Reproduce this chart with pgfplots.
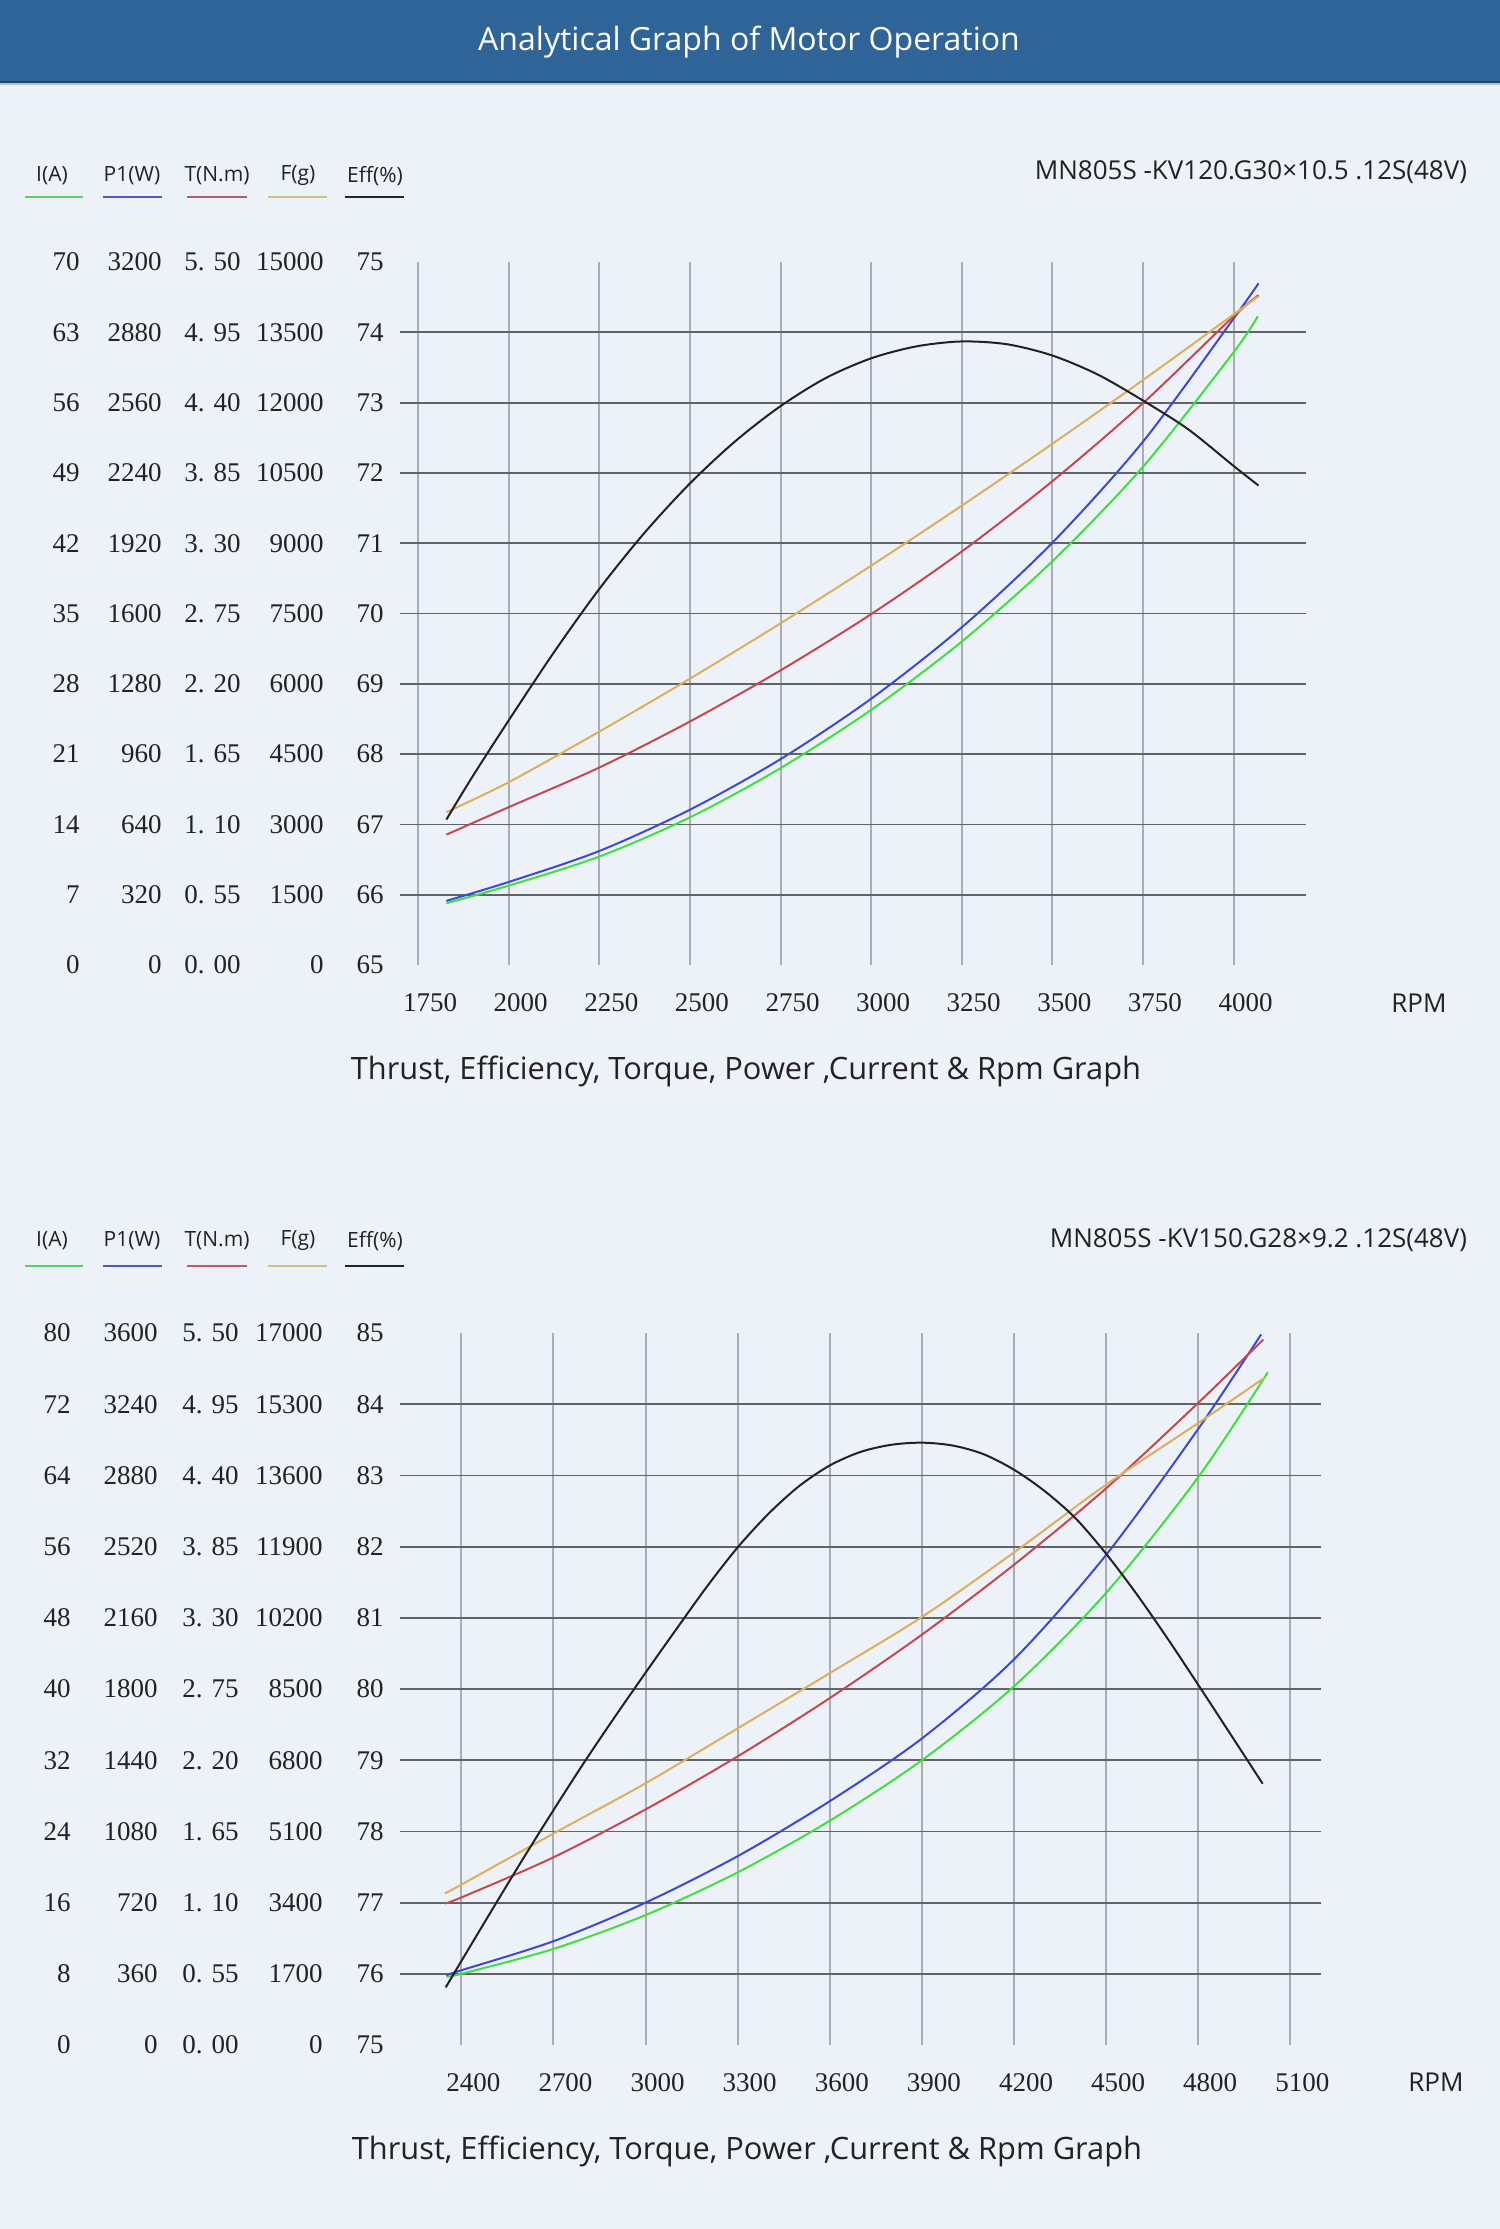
\documentclass[border=0pt]{standalone}
\usepackage{pgfplots}
\pgfplotsset{compat=1.18}
\usepackage{fontspec}
\setmainfont{Liberation Serif}
\newfontfamily\sans{Open Sans}
\definecolor{bg}{HTML}{EDF2F8}
\definecolor{bar}{HTML}{2F6499}
\definecolor{cI}{HTML}{3EE03E}
\definecolor{cP}{HTML}{3C48D8}
\definecolor{cT}{HTML}{C84650}
\definecolor{cF}{HTML}{DCAE5E}
\definecolor{cE}{HTML}{222222}
\definecolor{lI}{HTML}{5CD05C}
\definecolor{lP}{HTML}{4A5AC0}
\definecolor{lT}{HTML}{B85C68}
\definecolor{lF}{HTML}{D0C088}
\definecolor{lE}{HTML}{1F2430}
\definecolor{hgrid}{HTML}{606368}
\definecolor{vgrid}{HTML}{A9AEB6}
\definecolor{txt}{HTML}{222222}
\newcommand\rowA[5]{\makebox[30pt][r]{#1}\makebox[41pt][r]{#2}\makebox[39.5pt][r]{#3}\makebox[41.5pt][r]{#4}\makebox[30pt][r]{#5}}
\newcommand\rowB[5]{\makebox[30pt][r]{#1}\makebox[43.5pt][r]{#2}\makebox[40.5pt][r]{#3}\makebox[42pt][r]{#4}\makebox[30.5pt][r]{#5}}
\pgfplotsset{
  base/.style={scale only axis, anchor=south west,
    axis line style={draw=none}, major tick length=0pt,
    tick label style={font=\fontsize{13.5}{13.5}\selectfont, text=txt},
    xticklabel style={anchor=center, yshift=-19pt, xshift=6pt},
    yticklabel style={anchor=east, inner sep=0pt, xshift=-8pt},
    xmajorgrids, major grid style={vgrid, line width=1pt},
    extra y tick labels={},
    extra y tick style={grid=major, major grid style={hgrid, line width=0.9pt}},
    /pgf/number format/assume math mode=true,
    /pgf/number format/1000 sep={}, clip=false},
  over/.style={scale only axis, anchor=south west, hide axis, clip=false},
  crv/.style={smooth, line width=1pt, no marks},
}
\begin{document}
\begin{tikzpicture}
\useasboundingbox (0pt,0pt) rectangle (750pt,-1114.5pt);
\fill[bg] (0pt,0pt) rectangle (750pt,-1114.5pt);
\fill[bar] (0pt,0pt) rectangle (750pt,-41pt);
\draw[line width=0.8pt, color=bar!70!black] (0pt,-41pt) -- (750pt,-41pt);
\draw[line width=0.6pt, color=bar!40!white] (0pt,-42pt) -- (750pt,-42pt);
\node[text=white, font=\sans\fontsize{16}{16}\selectfont] at (374.5pt,-21pt) {Analytical Graph of Motor Operation};

\foreach \cx/\lx/\rx/\lab/\col in {26/12.5/41.5/{I(A)}/lI, 66/51.5/81/{P1(W)}/lP, 108.5/93.5/123.5/{T(N.m)}/lT, 149/134/163.5/{F(g)}/lF, 187.5/172.5/202/{Eff(\%)}/lE}{
  \node[text=txt, font=\sans\fontsize{10.5}{10.5}\selectfont] at (\cx pt,-88pt) {\lab};
  \draw[\col, line width=1.3pt] (\lx pt,-98.5pt) -- (\rx pt,-98.5pt);
  \node[text=txt, font=\sans\fontsize{10.5}{10.5}\selectfont] at (\cx pt,-620.5pt) {\lab};
  \draw[\col, line width=1.3pt] (\lx pt,-633pt) -- (\rx pt,-633pt);
}

% ---------- chart 1 ----------
\node[anchor=east, text=txt, font=\sans\fontsize{13}{13}\selectfont] at (737pt,-86pt) {MN805S -KV120.G30×10.5 .12S(48V)};
\node[text=txt, font=\sans\fontsize{13}{13}\selectfont] at (709.5pt,-501.5pt) {RPM};
\node[text=txt, font=\sans\fontsize{15.4}{15.4}\selectfont] at (373pt,-535.5pt) {Thrust, Efficiency, Torque, Power ,Current \& Rpm Graph};

\begin{axis}[base, at={(200pt,-482.5pt)}, width=453pt, height=351.5pt,
  xmin=1700, xmax=4200, ymin=65, ymax=75,
  xtick={1750,2000,2250,2500,2750,3000,3250,3500,3750,4000},
  ytick={65,66,67,68,69,70,71,72,73,74,75},
  yticklabels={\rowA{0}{0}{0. 00}{0}{65},\rowA{7}{320}{0. 55}{1500}{66},\rowA{14}{640}{1. 10}{3000}{67},\rowA{21}{960}{1. 65}{4500}{68},\rowA{28}{1280}{2. 20}{6000}{69},\rowA{35}{1600}{2. 75}{7500}{70},\rowA{42}{1920}{3. 30}{9000}{71},\rowA{49}{2240}{3. 85}{10500}{72},\rowA{56}{2560}{4. 40}{12000}{73},\rowA{63}{2880}{4. 95}{13500}{74},\rowA{70}{3200}{5. 50}{15000}{75}},
  extra y ticks={66,67,68,69,70,71,72,73,74}]
\end{axis}
\begin{axis}[over, at={(200pt,-482.5pt)}, width=453pt, height=351.5pt, xmin=1700, xmax=4200, ymin=0, ymax=70]
\addplot[crv, cI] coordinates {(1828,6.15) (2000,7.9) (2250,10.8) (2500,14.7) (2750,19.6) (3000,25.4) (3250,32.2) (3500,40.2) (3750,49.6) (4000,61.0) (4067,64.6)};
\end{axis}
\begin{axis}[over, at={(200pt,-482.5pt)}, width=453pt, height=351.5pt, xmin=1700, xmax=4200, ymin=0, ymax=3200]
\addplot[crv, cP] coordinates {(1828,292) (2000,378) (2250,519) (2500,707) (2750,937) (3000,1212) (3250,1537) (3500,1922) (3750,2382) (4000,2942) (4069,3103)};
\end{axis}
\begin{axis}[over, at={(200pt,-482.5pt)}, width=453pt, height=351.5pt, xmin=1700, xmax=4200, ymin=0, ymax=5.5]
\addplot[crv, cT] coordinates {(1828,1.02) (2000,1.235) (2250,1.545) (2500,1.905) (2750,2.305) (3000,2.745) (3250,3.235) (3500,3.785) (3750,4.395) (4000,5.075) (4069,5.24)};
\end{axis}
\begin{axis}[over, at={(200pt,-482.5pt)}, width=453pt, height=351.5pt, xmin=1700, xmax=4200, ymin=0, ymax=15000]
\addplot[crv, cF] coordinates {(1828,3260) (2000,3900) (2250,4980) (2500,6110) (2750,7290) (3000,8520) (3250,9800) (3500,11120) (3750,12480) (4000,13880) (4067,14260)};
\end{axis}
\begin{axis}[over, at={(200pt,-482.5pt)}, width=453pt, height=351.5pt, xmin=1700, xmax=4200, ymin=65, ymax=75]
\addplot[crv, cE] coordinates {(1828,67.07) (1900,67.68) (2000,68.48) (2125,69.45) (2250,70.35) (2375,71.15) (2500,71.85) (2625,72.45) (2750,72.95) (2875,73.35) (3000,73.63) (3125,73.80) (3250,73.87) (3375,73.83) (3500,73.67) (3625,73.40) (3750,73.03) (3875,72.62) (4000,72.1) (4069,71.82)};
\end{axis}

% ---------- chart 2 ----------
\node[anchor=east, text=txt, font=\sans\fontsize{13}{13}\selectfont] at (737pt,-620pt) {MN805S -KV150.G28×9.2 .12S(48V)};
\node[text=txt, font=\sans\fontsize{13}{13}\selectfont] at (718pt,-1041pt) {RPM};
\node[text=txt, font=\sans\fontsize{15.4}{15.4}\selectfont] at (373.5pt,-1075.5pt) {Thrust, Efficiency, Torque, Power ,Current \& Rpm Graph};

\begin{axis}[base, at={(200pt,-1022.5pt)}, width=460.5pt, height=356pt,
  xmin=2200, xmax=5200, ymin=75, ymax=85,
  xtick={2400,2700,3000,3300,3600,3900,4200,4500,4800,5100},
  ytick={75,76,77,78,79,80,81,82,83,84,85},
  yticklabels={\rowB{0}{0}{0. 00}{0}{75},\rowB{8}{360}{0. 55}{1700}{76},\rowB{16}{720}{1. 10}{3400}{77},\rowB{24}{1080}{1. 65}{5100}{78},\rowB{32}{1440}{2. 20}{6800}{79},\rowB{40}{1800}{2. 75}{8500}{80},\rowB{48}{2160}{3. 30}{10200}{81},\rowB{56}{2520}{3. 85}{11900}{82},\rowB{64}{2880}{4. 40}{13600}{83},\rowB{72}{3240}{4. 95}{15300}{84},\rowB{80}{3600}{5. 50}{17000}{85}},
  extra y ticks={76,77,78,79,80,81,82,83,84}]
\end{axis}
\begin{axis}[over, at={(200pt,-1022.5pt)}, width=460.5pt, height=356pt, xmin=2200, xmax=5200, ymin=0, ymax=80]
\addplot[crv, cI] coordinates {(2351,7.7) (2400,8.0) (2700,10.8) (3000,14.6) (3300,19.4) (3600,25.2) (3900,32.0) (4200,40.3) (4500,50.8) (4800,63.8) (5027,75.6)};
\end{axis}
\begin{axis}[over, at={(200pt,-1022.5pt)}, width=460.5pt, height=356pt, xmin=2200, xmax=5200, ymin=0, ymax=3600]
\addplot[crv, cP] coordinates {(2351,353) (2400,378) (2700,525) (3000,720) (3300,955) (3600,1233) (3900,1550) (4200,1950) (4500,2478) (4800,3115) (5005,3593)};
\end{axis}
\begin{axis}[over, at={(200pt,-1022.5pt)}, width=460.5pt, height=356pt, xmin=2200, xmax=5200, ymin=0, ymax=5.5]
\addplot[crv, cT] coordinates {(2346,1.094) (2400,1.14) (2700,1.45) (3000,1.82) (3300,2.23) (3600,2.68) (3900,3.17) (4200,3.71) (4500,4.30) (4800,4.96) (5012,5.45)};
\end{axis}
\begin{axis}[over, at={(200pt,-1022.5pt)}, width=460.5pt, height=356pt, xmin=2200, xmax=5200, ymin=0, ymax=17000]
\addplot[crv, cF] coordinates {(2346,3620) (2400,3830) (2700,5050) (3000,6250) (3300,7560) (3600,8880) (3900,10220) (4200,11760) (4500,13380) (4800,14850) (5016,15930)};
\end{axis}
\begin{axis}[over, at={(200pt,-1022.5pt)}, width=460.5pt, height=356pt, xmin=2200, xmax=5200, ymin=75, ymax=85]
\addplot[crv, cE] coordinates {(2349,75.81) (2400,76.18) (2500,76.90) (2600,77.61) (2700,78.30) (2800,78.97) (2900,79.61) (3000,80.23) (3100,80.84) (3200,81.44) (3300,81.99) (3400,82.46) (3500,82.85) (3600,83.14) (3700,83.33) (3800,83.43) (3900,83.46) (4000,83.42) (4100,83.30) (4200,83.08) (4300,82.78) (4400,82.40) (4500,81.90) (4600,81.33) (4700,80.71) (4800,80.06) (4900,79.40) (5010,78.67)};
\end{axis}
\end{tikzpicture}
\end{document}
